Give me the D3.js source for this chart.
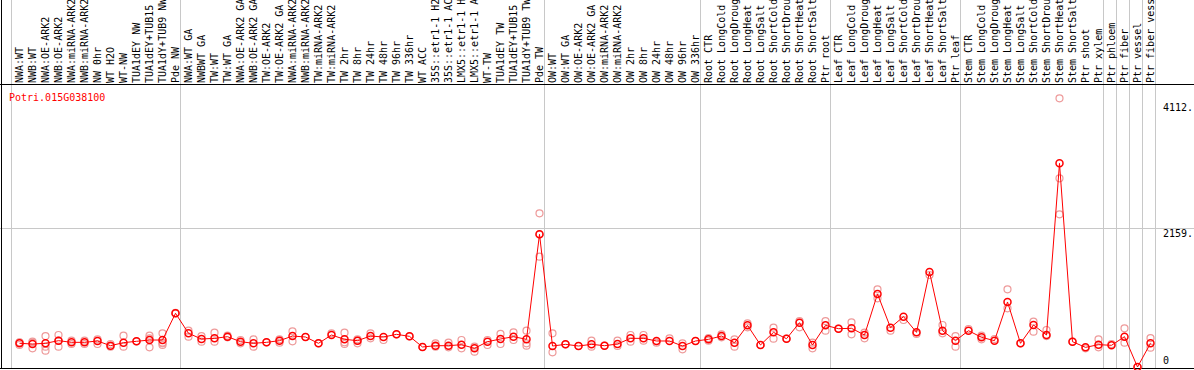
<!DOCTYPE html>
<html>
<head>
<meta charset="utf-8">
<script src="https://cdn.jsdelivr.net/npm/d3@7"></script>
<style>
body { margin: 0; background: #fff; }
svg { display: block; }
text { font-family: "DejaVu Sans Mono", monospace; font-size: 10px; }
</style>
</head>
<body>
<svg id="chart" width="1194" height="370"></svg>
<script>
var width = 1194, height = 370;

var geneName = "Potri.015G038100";

// sample names, left to right (text is clipped at the top like the original)
var samples = [
	"NWA:WT","NWB:WT","NWA:OE-ARK2","NWB:OE-ARK2","NWA:miRNA-ARK2","NWB:miRNA-ARK2","NW 0hr","WT H2O","WT-NW","TUA1dEY NW","TUA1dEY+TUB15 NW","TUA1dY+TUB9 NW","Pde NW",
	"NWA:WT GA","NWBWT GA","TW:WT","TW:WT GA","NWA:OE-ARK2 GA","NWB:OE-ARK2 GA","TW:OE-ARK2","TW:OE-ARK2 GA","NWA:miRNA-ARK2","NWB:miRNA-ARK2","TW:miRNA-ARK2","TW:miRNA-ARK2",
	"TW 2hr","TW 8hr","TW 24hr","TW 48hr","TW 96hr","TW 336hr","WT ACC","35S::etr1-1 H2O","35S::etr1-1 ACC","LMX5::etr1-1 H2O","LMX5::etr1-1 ACC","WT-TW","TUA1dEY TW","TUA1dEY+TUB15 TW","TUA1dY+TUB9 TW","Pde TW",
	"OW:WT","OW:WT GA","OW:OE-ARK2","OW:OE-ARK2 GA","OW:miRNA-ARK2","OW:miRNA-ARK2","OW 2hr","OW 8hr","OW 24hr","OW 48hr","OW 96hr","OW 336hr",
	"Root CTR","Root LongCold","Root LongDrought","Root LongHeat","Root LongSalt","Root ShortCold","Root ShortDrought","Root ShortHeat","Root ShortSalt","Ptr root",
	"Leaf CTR","Leaf LongCold","Leaf LongDrought","Leaf LongHeat","Leaf LongSalt","Leaf ShortCold","Leaf ShortDrought","Leaf ShortHeat","Leaf ShortSalt","Ptr leaf",
	"Stem CTR","Stem LongCold","Stem LongDrought","Stem LongHeat","Stem LongSalt","Stem ShortCold","Stem ShortDrought","Stem ShortHeat","Stem ShortSalt","Ptr shoot","Ptr xylem",
	"Ptr phloem","Ptr fiber","Ptr vessel","Ptr fiber vessel"
];

// number of samples in each study block (gray separators)
var groupSizes = [13, 28, 12, 10, 10, 11, 1, 1, 1, 1];

// mean expression per sample
var means = [
	368,357,368,409,383,383,404,331,378,399,419,419,834,
	523,435,445,471,393,368,383,409,481,466,368,497,430,409,481,466,507,476,311,331,331,347,290,393,435,471,430,2061,
	326,352,326,352,331,357,445,445,404,404,326,404,
	430,481,378,647,342,538,440,689,342,647,
	595,601,497,1134,611,782,538,1476,564,409,
	564,461,409,1010,368,652,497,3163,393,305,347,
	337,471,0,368
];

// individual replicates per sample
var reps = [
	[383,342,380],[393,290,380],[481,316,254],[497,316,409],[409,357],[409,357],[430,357],[357,316],[487,316],[399],[487,305,445],[523,368,342,380],[834,840],
	[564,471],[481,393],[533,393],[487,461],[419,368],[430,316],[383],[430,378],[554,399],[466],[368],[523],[533,383,357],[409,368,430],[523,445],[419],[507],[476],[311],[368,316],[378,305],[419,290],[316,238],[419,342],[513,357],[538,419],[564,368,331],[2387,1714,2061],
	[523,228],[352],[326],[409,316],[331],[409,326],[497,393],[497,409],[378],[445],[368,274],[404],
	[450,409],[507,461],[430,316],[678,616],[342],[611,440],[440],[714,616],[378,290],[714,564],
	[595],[694,507],[533,445],[1206,1067],[564],[730],[513],[1429],[652,523],[481,316],
	[590],[487,430],[435],[1206,911],[368],[704,549],[575,481],[4173,2930,2371],[393],[290],[430,305],
	[357],[601,378],[0],[450,300]
];

var yTicks = [0, 2159, 4112];
var yTickLabels = ["0", "2159.", "4112."];

var svg = d3.select("#chart");

var x = d3.scaleBand()
	.domain(d3.range(samples.length))
	.range([11, 1155]);

var y = d3.scaleLinear()
	.domain([0, 2159])
	.range([367, 228]);

// group separator positions
var bounds = [0];
groupSizes.forEach(function(n) { bounds.push(bounds[bounds.length - 1] + n); });

svg.append("g")
	.selectAll("line")
	.data(bounds)
	.join("line")
	.attr("x1", function(d) { return Math.round(x(0) + d * x.step()) + 0.5; })
	.attr("x2", function(d) { return Math.round(x(0) + d * x.step()) + 0.5; })
	.attr("y1", 0)
	.attr("y2", 369)
	.attr("stroke", "#c8c8c8");

// horizontal grid line (middle tick only)
svg.append("line")
	.attr("x1", 0).attr("x2", width)
	.attr("y1", Math.round(y(2159)) + 0.5)
	.attr("y2", Math.round(y(2159)) + 0.5)
	.attr("stroke", "#c8c8c8");

// frame
svg.append("line").attr("x1", 0).attr("x2", width).attr("y1", 84.5).attr("y2", 84.5).attr("stroke", "#000");
svg.append("line").attr("x1", 0).attr("x2", width).attr("y1", 368.5).attr("y2", 368.5).attr("stroke", "#000");
svg.append("line").attr("x1", 1.5).attr("x2", 1.5).attr("y1", 0).attr("y2", 369).attr("stroke", "#000");

// rotated sample labels
svg.append("g")
	.selectAll("text")
	.data(samples)
	.join("text")
	.attr("transform", function(d, i) { return "translate(" + (x(i) + 11.5) + ",83) rotate(-90)"; })
	.attr("fill", "#000")
	.text(function(d) { return d; });

// right side value labels
svg.append("g")
	.selectAll("text")
	.data(yTicks)
	.join("text")
	.attr("x", 1163)
	.attr("y", function(d) { return d === 0 ? y(d) - 3 : y(d) + 9; })
	.attr("fill", "#000")
	.text(function(d, i) { return yTickLabels[i]; });

// gene name
svg.append("text")
	.attr("x", 9)
	.attr("y", 100.5)
	.attr("fill", "#ff0000")
	.text(geneName);

var plot = svg.append("g");

// replicates
var repPoints = [];
reps.forEach(function(r, i) {
	r.forEach(function(v) { repPoints.push({i: i, v: v}); });
});

plot.selectAll("circle.rep")
	.data(repPoints)
	.join("circle")
	.attr("class", "rep")
	.attr("cx", function(d) { return x(d.i) + 8.5; })
	.attr("cy", function(d) { return y(d.v); })
	.attr("r", 3.5)
	.attr("fill", "none")
	.attr("stroke", "#ee9a9a")
	.attr("stroke-width", 1.2);

var line = d3.line()
	.x(function(d, i) { return x(i) + 8.5; })
	.y(function(d) { return y(d); });

plot.append("path")
	.datum(means)
	.attr("d", line)
	.attr("fill", "none")
	.attr("stroke", "#ff0000")
	.attr("stroke-width", 1);

plot.selectAll("circle.mean")
	.data(means)
	.join("circle")
	.attr("class", "mean")
	.attr("cx", function(d, i) { return x(i) + 8.5; })
	.attr("cy", function(d) { return y(d); })
	.attr("r", 3.5)
	.attr("fill", "none")
	.attr("stroke", "#ff0000")
	.attr("stroke-width", 1.5);
</script>
</body>
</html>
